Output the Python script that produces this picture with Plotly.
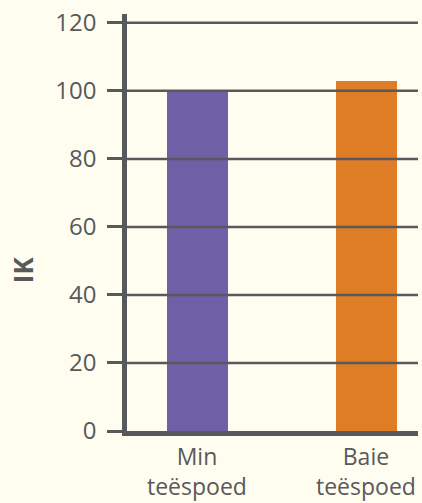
import plotly.graph_objects as go

categories = ["Min<br>teëspoed", "Baie<br>teëspoed"]
values = [100, 103]
bar_colors = ["#6f5fa6", "#df7d27"]
y_ticks = [0, 20, 40, 60, 80, 100, 120]
y_title = "IK"

ink = "#58595b"
bg = "#fffdf0"
font_family = "Open Sans, Noto Sans, sans-serif"

x_pos = list(range(len(categories)))

fig = go.Figure()
fig.add_trace(go.Bar(
    x=x_pos, y=values, marker_color=bar_colors, width=0.36,
    marker_line_width=0, hoverinfo="skip",
))

for v in y_ticks[1:]:
    fig.add_shape(type="line", xref="paper", yref="y", x0=0, x1=1, y0=v, y1=v,
                  line=dict(color=ink, width=2.5), layer="above")

for xp, txt in zip(x_pos, categories):
    fig.add_annotation(x=xp, xref="x", y=-0.097, yref="paper", text=txt,
                       showarrow=False, xanchor="center", yanchor="middle",
                       font=dict(size=23, color=ink))

fig.add_annotation(x=-0.357, xref="paper", y=0.386, yref="paper",
                   text="<b>" + y_title + "</b>", textangle=-90, showarrow=False,
                   xanchor="center", yanchor="middle", font=dict(size=26, color=ink))

fig.update_layout(
    width=422, height=503,
    margin=dict(l=127, r=4, t=14, b=72),
    paper_bgcolor=bg, plot_bgcolor=bg,
    font=dict(family=font_family, color=ink, size=22),
    showlegend=False,
    bargap=0,
)
fig.update_xaxes(
    range=[-0.417, 1.305], tickvals=x_pos, ticktext=["", ""],
    showgrid=False, zeroline=False, showline=True, linecolor=ink, linewidth=4.5,
    ticks="",
)
fig.update_yaxes(
    range=[0, 122.6], tickvals=y_ticks, showgrid=False, zeroline=False,
    showline=True, linecolor=ink, linewidth=4.5,
    ticks="outside", ticklen=15, tickwidth=2.5, tickcolor=ink,
    tickfont=dict(size=24, color=ink), ticklabelstandoff=6,
)

fig.write_html(
    "out.html",
    config={"displayModeBar": False},
    post_script="document.body.style.margin='0';document.body.style.background='#fffdf0';",
)
